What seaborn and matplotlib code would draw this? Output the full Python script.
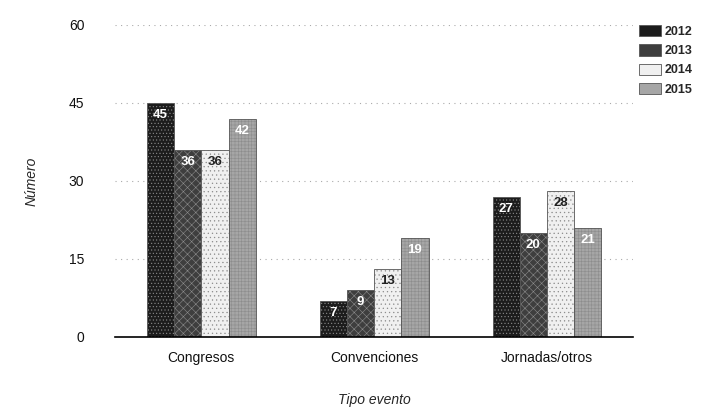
import pandas as pd
import matplotlib.pyplot as plt
import seaborn as sns

# datos
categorias = ['Congresos', 'Convenciones', 'Jornadas/otros']
anios = ['2012', '2013', '2014', '2015']
v2012 = [45, 7, 27]
v2013 = [36, 9, 20]
v2014 = [36, 13, 28]
v2015 = [42, 19, 21]

df = pd.DataFrame({
    'Tipo evento': categorias * 4,
    'Año': [a for a in anios for _ in categorias],
    'Número': v2012 + v2013 + v2014 + v2015,
})

sns.set_theme(style="white")
plt.rcParams['font.family'] = ['Liberation Sans', 'DejaVu Sans']
plt.rcParams['hatch.linewidth'] = 0.4
plt.rcParams['hatch.color'] = '#8a8a8a'

colores = ['#1c1c1c', '#3e3e3e', '#f0f0f0', '#a6a6a6']
tramas = ['.....', 'xxxx', '....', '+++++']

fig = plt.figure(figsize=(7.23, 4.16), dpi=100)
ax = fig.add_axes([0.159, 0.19, 0.717, 0.75])
sns.barplot(data=df, x='Tipo evento', y='Número', hue='Año', order=categorias,
            hue_order=anios, palette=colores, width=0.63, edgecolor='#555555',
            linewidth=0.6, ax=ax)

for cont, trama, col in zip(ax.containers, tramas, colores):
    for barra in cont:
        barra.set_hatch(trama)
        barra._hatch_color = (0.55, 0.55, 0.55, 1)
    txt_color = '#222222' if col == '#f0f0f0' else 'white'
    ax.bar_label(cont, label_type='edge', padding=-13, color=txt_color,
                 fontsize=9.5, fontweight='bold')

ax.set_ylim(0, 60)
ax.set_yticks([0, 15, 30, 45, 60])
ax.yaxis.grid(True, linestyle=(0, (1, 4)), color='#aaaaaa', linewidth=0.8)
ax.set_axisbelow(True)
for s in ['top', 'right', 'left']:
    ax.spines[s].set_visible(False)
ax.spines['bottom'].set_color('black')
ax.spines['bottom'].set_linewidth(1.2)
ax.tick_params(axis='both', length=0, labelsize=10, colors='#111111')
ax.tick_params(axis='y', pad=22)
ax.tick_params(axis='x', pad=10)

ax.set_xlabel('Tipo evento', fontstyle='italic', fontsize=10, labelpad=20)
ax.set_ylabel('Número', fontstyle='italic', fontsize=10, labelpad=22)

ax.legend(title=None, frameon=False, loc='upper left', bbox_to_anchor=(0.99, 1.035),
          handlelength=1.7, handleheight=1.0, labelspacing=0.5,
          handletextpad=0.3, prop={'weight': 'bold', 'size': 9})

plt.savefig('out.png', dpi=100)
plt.close()
